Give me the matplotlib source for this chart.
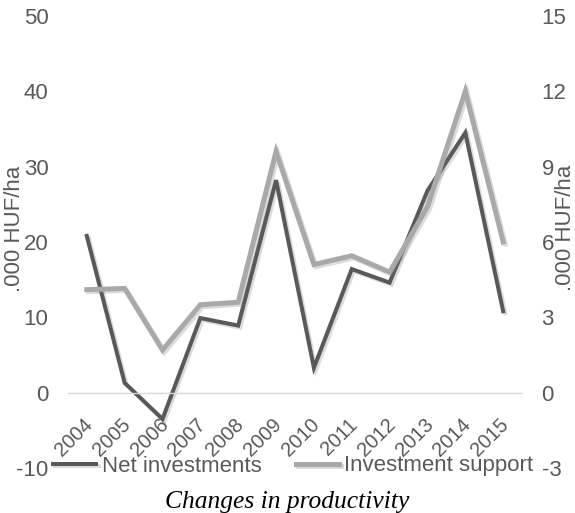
import matplotlib
matplotlib.use("Agg")
import matplotlib.pyplot as plt
import matplotlib.patheffects as pe
from matplotlib.transforms import ScaledTranslation

plt.rcParams["font.family"] = ["Liberation Sans", "DejaVu Sans"]
plt.rcParams["axes.unicode_minus"] = False

years = ["2004", "2005", "2006", "2007", "2008", "2009",
         "2010", "2011", "2012", "2013", "2014", "2015"]
# left axis, .000 HUF/ha
net_investments = [20.8, 1.3, -3.5, 9.9, 8.9, 28.2, 3.3, 16.4, 14.6, 26.8, 34.5, 10.8]
# right axis, .000 HUF/ha
investment_support = [4.1, 4.15, 1.7, 3.5, 3.6, 9.6, 5.1, 5.45, 4.8, 7.4, 12.0, 6.0]

left_ticks = [-10, 0, 10, 20, 30, 40, 50]
right_ticks = [-3, 0, 3, 6, 9, 12, 15]

TEXT = "#595959"
DARK = "#595959"
LIGHT = "#A9A9A9"

fig = plt.figure(figsize=(5.75, 5.13), dpi=100)
ax = fig.add_axes([0.118, 0.0877, 0.790, 0.8813])
ax2 = ax.twinx()

x = range(len(years))
shadow = [pe.SimpleLineShadow(offset=(1.5, -1.5), alpha=0.25, shadow_color="#777777"),
          pe.Normal()]

ax.plot(x, net_investments, color=DARK, lw=2.9, solid_joinstyle="miter",
        label="Net investments", path_effects=shadow)
ax2.plot(x, investment_support, color=LIGHT, lw=3.6, solid_joinstyle="miter",
         label="Investment support", path_effects=shadow)

ax.set_xlim(-0.5, len(years) - 0.5)
ax.set_ylim(-10, 50)
ax2.set_ylim(-3, 15)
ax.set_yticks(left_ticks)
ax2.set_yticks(right_ticks)

for a in (ax, ax2):
    for s in a.spines.values():
        s.set_visible(False)
    a.tick_params(axis="both", length=0, labelsize=16, labelcolor=TEXT)
ax.tick_params(axis="y", pad=14)
ax2.tick_params(axis="y", pad=14)

# category axis crosses at zero
ax.spines["bottom"].set_visible(True)
ax.spines["bottom"].set_position(("data", 0))
ax.spines["bottom"].set_color("#D9D9D9")
ax.spines["bottom"].set_linewidth(1.0)
ax.set_xticks(list(x))
ax.set_xticklabels(years, rotation=45, ha="right", va="top", rotation_mode="anchor",
                   fontsize=14.5)
ax.tick_params(axis="x", pad=6)
shift = ScaledTranslation(-4 / 100, -14 / 100, fig.dpi_scale_trans)
for lab in ax.get_xticklabels():
    lab.set_transform(lab.get_transform() + shift)

fig.text(0.026, 1 - 229 / 513, ".000 HUF/ha", rotation=90, ha="center", va="center",
         fontsize=16, color=TEXT)
fig.text(0.984, 1 - 228 / 513, ".000 HUF/ha", rotation=90, ha="center", va="center",
         fontsize=16, color=TEXT)

h1, l1 = ax.get_legend_handles_labels()
h2, l2 = ax2.get_legend_handles_labels()
leg = fig.legend(h1 + h2, l1 + l2, loc="center", bbox_to_anchor=(0.51, 1 - 466 / 513),
                 ncol=2, frameon=False, fontsize=16, handlelength=1.95,
                 handletextpad=0.23, columnspacing=1.55, borderpad=0, borderaxespad=0)
for t in leg.get_texts():
    t.set_color(TEXT)

fig.text(0.5, 1 - 508 / 513, "Changes in productivity", ha="center", va="baseline",
         fontsize=18.4, style="italic", family="Liberation Serif", color="black")

fig.savefig("out.png", dpi=100)
